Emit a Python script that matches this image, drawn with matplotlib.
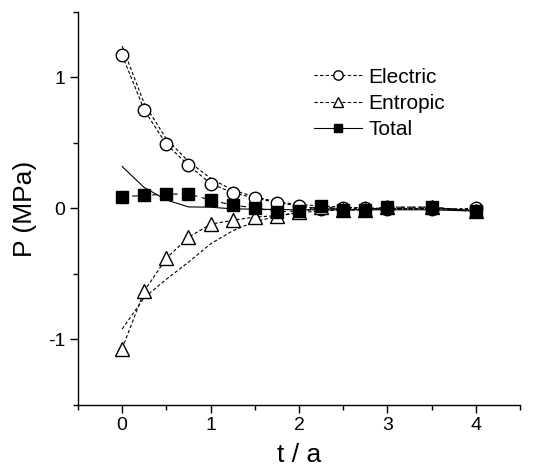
import numpy as np
import matplotlib
matplotlib.use('Agg')
import matplotlib.pyplot as plt
from matplotlib.ticker import MultipleLocator

plt.rcParams['font.family'] = ['Liberation Sans', 'DejaVu Sans']
plt.rcParams['axes.unicode_minus'] = False

# simulation points
t = [0, 0.25, 0.5, 0.75, 1.0, 1.25, 1.5, 1.75, 2.0, 2.25, 2.5, 2.75, 3.0, 3.5, 4.0]
electric = [1.17, 0.75, 0.49, 0.33, 0.19, 0.12, 0.08, 0.045, 0.02, -0.005, 0.0, 0.0, -0.005, -0.005, 0.0]
entropic = [-1.07, -0.63, -0.38, -0.22, -0.12, -0.09, -0.065, -0.055, -0.03, 0.01, -0.01, -0.01, 0.01, 0.01, -0.02]
total = [0.09, 0.10, 0.11, 0.11, 0.065, 0.025, 0.005, -0.025, -0.02, 0.02, -0.01, -0.01, 0.01, 0.01, -0.02]

# theory curves
t_fit = [0, 0.25, 0.5, 0.75, 1.0, 1.25, 1.5, 1.75, 2.0, 2.5, 3.0, 3.5, 4.0]
electric_fit = [1.24, 0.80, 0.53, 0.36, 0.23, 0.14, 0.09, 0.05, 0.03, 0.01, 0.0, 0.0, -0.01]
entropic_fit = [-0.92, -0.68, -0.54, -0.41, -0.27, -0.17, -0.10, -0.06, -0.03, -0.01, 0.0, 0.0, -0.02]
total_fit = [0.32, 0.16, 0.065, 0.012, 0.01, -0.003, -0.005, -0.008, -0.01, -0.01, -0.01, -0.01, -0.02]

fig = plt.figure(figsize=(5.4, 4.7), dpi=100)
ax = fig.add_axes([0.1444, 0.1383, 0.8186, 0.8362])

dash = (0, (3, 2))
ax.plot(t_fit, electric_fit, color='black', lw=0.8, linestyle=dash)
ax.plot(t_fit, entropic_fit, color='black', lw=0.8, linestyle=dash)
ax.plot(t_fit, total_fit, color='black', lw=0.8, linestyle='-')

ax.plot(t, electric, color='black', lw=0.8, linestyle=dash, marker='o', ms=9,
        mfc='white', mec='black', mew=1.0, label='Electric')
ax.plot(t, entropic, color='black', lw=0.8, linestyle=dash, marker='^', ms=10,
        mfc='white', mec='black', mew=1.0, label='Entropic')
ax.plot(t, total, color='black', lw=0.8, linestyle=(0, (5, 4)), marker='s', ms=8.5,
        mfc='black', mec='black', mew=1.0)
# legend handle for total uses a solid line
ax.plot([], [], color='black', lw=0.8, linestyle='-', marker='s', ms=8.5,
        mfc='black', mec='black', label='Total')

ax.set_xlim(-0.5, 4.5)
ax.set_ylim(-1.5, 1.5)
ax.xaxis.set_major_locator(MultipleLocator(1))
ax.xaxis.set_minor_locator(MultipleLocator(0.5))
ax.yaxis.set_major_locator(MultipleLocator(1))
ax.yaxis.set_minor_locator(MultipleLocator(0.5))
ax.set_xticks([0, 1, 2, 3, 4])
ax.set_yticks([-1, 0, 1])

for s in ['top', 'right']:
    ax.spines[s].set_visible(False)
for s in ['left', 'bottom']:
    ax.spines[s].set_linewidth(1.0)

ax.tick_params(which='major', direction='out', length=6, width=1.0, labelsize=14, pad=3)
ax.tick_params(which='minor', direction='out', length=3.5, width=1.0)

ax.set_xlabel('t / a', fontsize=19, labelpad=6)
ax.set_ylabel('P (MPa)', fontsize=19, labelpad=8)

ax.legend(loc='upper left', bbox_to_anchor=(0.51, 0.885), frameon=False, fontsize=15,
          handlelength=2.3, handletextpad=0.3, labelspacing=0.35, borderpad=0,
          markerscale=0.75)

fig.savefig('out.png', dpi=100)
